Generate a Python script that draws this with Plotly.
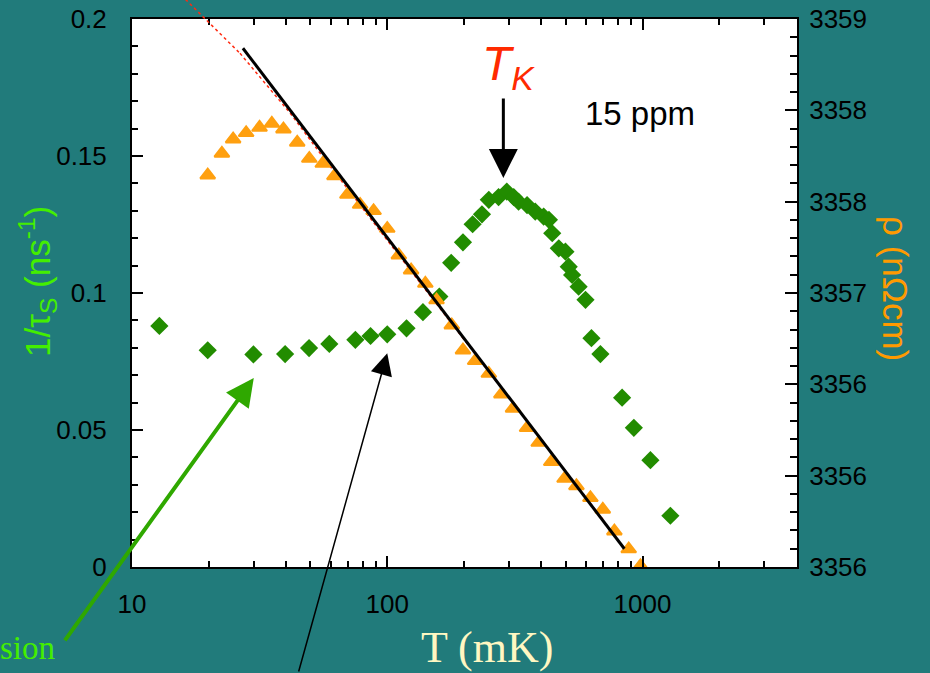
import numpy as np
import plotly.graph_objects as go

# ---------------- data ----------------
# green diamonds: spin relaxation rate 1/tau_s (left axis), T in mK
T_SPIN = [12.8, 19.8, 29.9, 39.8, 49.4, 59.3, 75, 86, 100, 119, 138, 160, 178, 198,
          216, 235, 250, 273, 294, 313, 327, 353, 380, 410, 430, 443, 470, 499, 514,
          530, 562, 598, 631, 684, 832, 925, 1074, 1286]
RATE_SPIN = [0.088, 0.0791, 0.0776, 0.0777, 0.0799, 0.0814, 0.0829, 0.0843, 0.0849,
             0.0871, 0.093, 0.0987, 0.111, 0.1185, 0.1251, 0.1287, 0.134, 0.135, 0.137,
             0.135, 0.1333, 0.1321, 0.1297, 0.1279, 0.1267, 0.1218, 0.1163, 0.1151,
             0.1096, 0.1066, 0.1023, 0.0975, 0.0835, 0.0777, 0.0618, 0.0508, 0.039, 0.0187]

# orange triangles: resistivity rho (right axis)
T_RHO = [19.8, 22.5, 24.9, 28.0, 31.6, 35.3, 39.2, 44.4, 49.5, 55.9, 62.1, 69.8, 78.3,
         88.4, 100, 111, 124, 141, 156, 179, 198, 221, 250, 280, 311, 353, 392, 439,
         495, 551, 625, 699, 776, 883, 982]
RHO = [3358.145, 3358.264, 3358.342, 3358.377, 3358.406, 3358.428, 3358.397, 3358.324,
       3358.236, 3358.209, 3358.141, 3358.039, 3357.984, 3357.950, 3357.853, 3357.707,
       3357.625, 3357.552, 3357.461, 3357.324, 3357.187, 3357.129, 3357.059, 3356.946,
       3356.868, 3356.762, 3356.681, 3356.576, 3356.484, 3356.444, 3356.379, 3356.315,
       3356.196, 3356.098, 3356.006]

# black logarithmic fit line
T_FIT = [27.2, 849]
RHO_FIT = [3358.84, 3356.10]

# red dotted curve (its upper end runs past the top of the frame)
T_RED = [15.6, 19.6, 26.5, 41.7, 54.6, 700]
RHO_RED = [3359.13, 3358.995, 3358.812, 3358.484, 3358.265, 3356.26]
RED_SPLIT = 3          # points drawn on the extended (unclipped-at-top) axes

# ticks
X_TICKS = [10, 100, 1000]
X_TICK_LABELS = ["10", "100", "1000"]
Y_LEFT_TICKS = [0, 0.05, 0.1, 0.15, 0.2]
Y_LEFT_LABELS = ["0", "0.05", "0.1", "0.15", "0.2"]
Y_RIGHT_TICKS = [3356, 3356.5, 3357, 3357.5, 3358, 3358.5, 3359]
Y_RIGHT_LABELS = ["3356", "3356", "3356", "3357", "3358", "3358", "3359"]

X_RANGE = [10, 4030]
Y_LEFT_RANGE = [0, 0.2]
Y_RIGHT_RANGE = [3356, 3359]

# annotation anchors (data values)
TK_VALUE = 285          # Kondo temperature arrow (mK)
TK_ARROW_Y = 0.142
GREEN_ARROW_T, GREEN_ARROW_Y = 30, 0.069
BLACK_ARROW_T, BLACK_ARROW_Y = 100, 0.078

# ---------------- styling / geometry ----------------
BG = "#217B7B"
GREEN_MARK = "#228C00"
ORANGE = "#FFA010"
RED = "#FF2A10"
LABEL_GREEN = "#44EE00"
TITLE_ORANGE = "#FF9A00"
SANS = "Liberation Sans, Arial, sans-serif"
SERIF = "Liberation Serif, Times New Roman, serif"

W, H = 930, 673
L, R, B = 132, 133, 106
PLOT_TOP = 19                      # pixel row of the top of the frame
PAPER_H = H - B                    # paper spans from pixel 0 to the x axis
PW = W - L - R
PH = PAPER_H - PLOT_TOP
DOMAIN_TOP = PH / PAPER_H
# right-axis range stretched to the whole paper height (for the red line's top end)
Y_EXT_RANGE = [Y_RIGHT_RANGE[0],
               Y_RIGHT_RANGE[0] + (Y_RIGHT_RANGE[1] - Y_RIGHT_RANGE[0]) / DOMAIN_TOP]
X_LOG_RANGE = [np.log10(X_RANGE[0]), np.log10(X_RANGE[1])]


def px(xp):
    return (xp - L) / PW


def py(yp):
    return (PAPER_H - yp) / PAPER_H


fig = go.Figure()

fig.add_trace(go.Scatter(
    x=T_SPIN, y=RATE_SPIN, mode="markers", xaxis="x", yaxis="y",
    marker=dict(symbol="diamond", size=14, color=GREEN_MARK, line=dict(width=0)),
    showlegend=False))

fig.add_trace(go.Scatter(
    x=T_RED[RED_SPLIT - 1:], y=RHO_RED[RED_SPLIT - 1:], mode="lines",
    xaxis="x", yaxis="y2",
    line=dict(color=RED, width=1.5, dash="dot"), showlegend=False))

fig.add_trace(go.Scatter(
    x=T_RHO, y=RHO, mode="markers", xaxis="x", yaxis="y2",
    marker=dict(symbol="triangle-up", size=13, color=ORANGE,
                line=dict(width=2, color=ORANGE)),
    showlegend=False))

fig.add_trace(go.Scatter(
    x=T_FIT, y=RHO_FIT, mode="lines", xaxis="x", yaxis="y2",
    line=dict(color="black", width=3), showlegend=False))

fig.add_trace(go.Scatter(
    x=T_RED[:RED_SPLIT], y=RHO_RED[:RED_SPLIT], mode="lines",
    xaxis="x2", yaxis="y3",
    line=dict(color=RED, width=1.5, dash="dot"), showlegend=False))

annotations = [
    # axis titles
    dict(text="1/τ<sub>S</sub> (ns<sup>-1</sup>)", xref="paper", yref="paper",
         x=px(37), y=py(282), xanchor="center", yanchor="middle", textangle=-90,
         showarrow=False, font=dict(family=SANS, size=35, color=LABEL_GREEN)),
    dict(text="ρ (nΩcm)", xref="paper", yref="paper",
         x=px(896), y=py(289), xanchor="center", yanchor="middle", textangle=90,
         showarrow=False, font=dict(family=SANS, size=35, color=TITLE_ORANGE)),
    dict(text="T (mK)", xref="paper", yref="paper",
         x=px(487), y=py(647), xanchor="center", yanchor="middle",
         showarrow=False, font=dict(family=SERIF, size=44, color="#FFF7C2")),
    dict(text="sion", xref="paper", yref="paper",
         x=px(57), y=py(648), xanchor="right", yanchor="middle",
         showarrow=False, font=dict(family=SERIF, size=33, color=LABEL_GREEN)),
    # labels in the plot
    dict(text="15 ppm", xref="paper", yref="paper",
         x=px(640), y=py(113), xanchor="center", yanchor="middle",
         showarrow=False, font=dict(family=SANS, size=33, color="black")),
    dict(text="<i>T<sub>K</sub></i>", xref="paper", yref="paper",
         x=px(508), y=py(67), xanchor="center", yanchor="middle",
         showarrow=False, font=dict(family=SANS, size=48, color="#FF2A00")),
    # arrows
    dict(text="", xref="x", yref="y", x=np.log10(TK_VALUE), y=TK_ARROW_Y,
         ax=0, ay=-81, showarrow=True, arrowhead=2, arrowsize=1.93,
         arrowwidth=3, arrowcolor="black", standoff=0),
    dict(text="", xref="x", yref="y", x=np.log10(GREEN_ARROW_T), y=GREEN_ARROW_Y,
         ax=-190, ay=264, showarrow=True, arrowhead=2, arrowsize=1.4,
         arrowwidth=4, arrowcolor="#2FA800", standoff=0),
    dict(text="", xref="x", yref="y", x=np.log10(BLACK_ARROW_T), y=BLACK_ARROW_Y,
         ax=-89, ay=340, showarrow=True, arrowhead=2, arrowsize=2.9,
         arrowwidth=1.5, arrowcolor="black", standoff=0),
]

tickfont = dict(family=SANS, size=26, color="black")

fig.update_layout(
    width=W, height=H,
    margin=dict(l=L, r=R, t=0, b=B, pad=0, autoexpand=False),
    paper_bgcolor=BG, plot_bgcolor="rgba(0,0,0,0)",
    showlegend=False,
    # white frame area of the main subplot
    shapes=[dict(type="rect", xref="x domain", yref="y domain",
                 x0=0, x1=1, y0=0, y1=1, fillcolor="white",
                 line=dict(width=0), layer="below")],
    xaxis=dict(
        type="log", range=X_LOG_RANGE, domain=[0, 1], anchor="y",
        tickvals=X_TICKS, ticktext=X_TICK_LABELS, tickfont=tickfont,
        ticks="inside", ticklen=11, tickwidth=2, tickcolor="black",
        showline=True, linecolor="black", linewidth=2, mirror="ticks",
        showgrid=False, zeroline=False, ticklabelstandoff=13, automargin=False,
        minor=dict(ticks="inside", ticklen=6, tickwidth=1.5, tickcolor="black",
                   dtick="D1", showgrid=False),
    ),
    yaxis=dict(
        range=Y_LEFT_RANGE, domain=[0, DOMAIN_TOP], anchor="x",
        tickvals=Y_LEFT_TICKS, ticktext=Y_LEFT_LABELS,
        tickfont=tickfont, ticks="inside", ticklen=11, tickwidth=2,
        tickcolor="black", showline=True, linecolor="black", linewidth=2,
        showgrid=False, zeroline=False, ticklabelstandoff=18, automargin=False,
        minor=dict(ticks="inside", ticklen=6, tickwidth=1.5, tickcolor="black",
                   dtick=0.01, showgrid=False),
    ),
    yaxis2=dict(
        overlaying="y", side="right", range=Y_RIGHT_RANGE, anchor="x",
        tickvals=Y_RIGHT_TICKS, ticktext=Y_RIGHT_LABELS, tickfont=tickfont,
        ticks="inside", ticklen=12, tickwidth=2, tickcolor="black",
        showline=True, linecolor="black", linewidth=2, automargin=False,
        showgrid=False, zeroline=False, ticklabelstandoff=5,
        minor=dict(ticks="inside", ticklen=7, tickwidth=1.5, tickcolor="black",
                   dtick=0.1, showgrid=False),
    ),
    # invisible axes covering the full paper height (same scales, taller)
    xaxis2=dict(type="log", range=X_LOG_RANGE, domain=[0, 1], anchor="y3",
                visible=False, showgrid=False, zeroline=False),
    yaxis3=dict(range=Y_EXT_RANGE, domain=[0, 1], anchor="x2",
                visible=False, showgrid=False, zeroline=False),
    annotations=annotations,
)

fig.write_html(
    "out.html",
    config={"displayModeBar": False},
    post_script="document.body.style.margin='0';document.body.style.background='%s';" % BG,
)
